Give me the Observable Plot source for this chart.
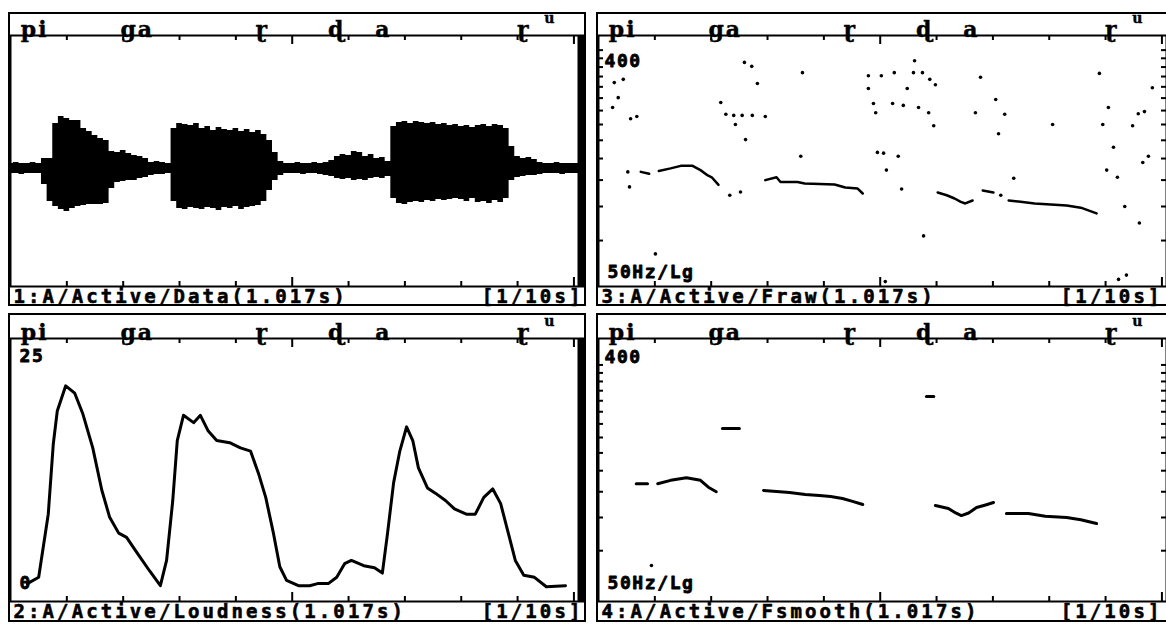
<!DOCTYPE html>
<html><head><meta charset="utf-8">
<script src="https://cdn.jsdelivr.net/npm/d3@7"></script>
<script src="https://cdn.jsdelivr.net/npm/@observablehq/plot@0.6"></script>
<style>
html,body{margin:0;padding:0;background:#fff;}
#root{position:relative;width:1166px;height:624px;overflow:hidden;background:#fff;}
.panel{position:absolute;}
.panel svg{display:block;overflow:visible;outline:2px solid #000;outline-offset:-2px;}
.panel svg g[font-family="DejaVu Sans Mono, monospace"] text{letter-spacing:3.1px;}
.panel svg g[font-family="DejaVu Sans Mono, sans-serif"] text{letter-spacing:1.6px;}
.panel svg g[font-family="DejaVu Serif, serif"] text{letter-spacing:2px;}
</style></head><body><div id="root"></div>
<script>
// ---------- data ----------
const duration = 1.017;
const timeTicks = [0.1,0.2,0.3,0.4,0.6,0.7,0.8,0.9];
const majorTicks = [0.5,1.0];
const hzTicks = [75,100,125,150,175,200,225,250,275,300,325,350,375];

const phoneLabels = ["pi","ga","ɽ","ɖ","a","ɽ"];
const phoneTimes  = [0.043,0.225,0.447,0.579,0.662,0.911];
const superLabels = ["u"];
const superTimes  = [0.958];

// waveform envelope, 10 ms frames
const waveT = [0.00,0.01,0.02,0.03,0.04,0.05,0.06,0.07,0.08,0.09,
 0.10,0.11,0.12,0.13,0.14,0.15,0.16,0.17,0.18,0.19,
 0.20,0.21,0.22,0.23,0.24,0.25,0.26,0.27,0.28,0.29,
 0.30,0.31,0.32,0.33,0.34,0.35,0.36,0.37,0.38,0.39,
 0.40,0.41,0.42,0.43,0.44,0.45,0.46,0.47,0.48,0.49,
 0.50,0.51,0.52,0.53,0.54,0.55,0.56,0.57,0.58,0.59,
 0.60,0.61,0.62,0.63,0.64,0.65,0.66,0.67,0.68,0.69,
 0.70,0.71,0.72,0.73,0.74,0.75,0.76,0.77,0.78,0.79,
 0.80,0.81,0.82,0.83,0.84,0.85,0.86,0.87,0.88,0.89,
 0.90,0.91,0.92,0.93,0.94,0.95,0.96,0.97,0.98,0.99,
 1.00,1.01];
const waveUpper = [0.05,0.06,0.05,0.05,0.06,0.05,0.10,0.10,0.45,0.52,
 0.50,0.48,0.48,0.40,0.37,0.33,0.30,0.28,0.17,0.16,
 0.18,0.15,0.13,0.12,0.10,0.06,0.07,0.06,0.05,0.40,
 0.45,0.44,0.43,0.45,0.40,0.42,0.38,0.41,0.39,0.38,
 0.40,0.37,0.39,0.36,0.38,0.34,0.28,0.16,0.07,0.05,
 0.05,0.06,0.05,0.05,0.06,0.05,0.06,0.08,0.12,0.14,
 0.13,0.17,0.16,0.12,0.14,0.10,0.11,0.07,0.42,0.46,
 0.47,0.45,0.47,0.46,0.45,0.46,0.44,0.45,0.43,0.44,
 0.42,0.43,0.41,0.43,0.44,0.42,0.44,0.43,0.40,0.22,
 0.12,0.10,0.11,0.09,0.06,0.05,0.05,0.06,0.05,0.05,
 0.05,0.05];
const waveLower = [-0.05,-0.05,-0.06,-0.05,-0.05,-0.05,-0.16,-0.33,-0.38,-0.41,
 -0.43,-0.40,-0.38,-0.37,-0.36,-0.36,-0.36,-0.35,-0.20,-0.14,
 -0.13,-0.12,-0.12,-0.10,-0.09,-0.07,-0.06,-0.06,-0.05,-0.33,
 -0.40,-0.41,-0.39,-0.40,-0.41,-0.39,-0.40,-0.42,-0.39,-0.40,
 -0.38,-0.41,-0.39,-0.38,-0.37,-0.33,-0.22,-0.12,-0.07,-0.05,
 -0.05,-0.05,-0.06,-0.05,-0.05,-0.06,-0.07,-0.08,-0.10,-0.11,
 -0.10,-0.12,-0.11,-0.12,-0.10,-0.09,-0.10,-0.08,-0.30,-0.35,
 -0.36,-0.34,-0.33,-0.34,-0.32,-0.33,-0.31,-0.32,-0.31,-0.30,
 -0.31,-0.33,-0.30,-0.34,-0.33,-0.35,-0.32,-0.34,-0.30,-0.12,
 -0.09,-0.08,-0.07,-0.07,-0.06,-0.05,-0.05,-0.05,-0.06,-0.05,
 -0.05,-0.05];

// loudness (0..25 scale)
const loudT = [0.030,0.050,0.067,0.076,0.083,0.098,0.114,0.128,0.146,0.162,0.176,0.192,0.206,0.225,0.247,0.266,
 0.277,0.288,0.296,0.307,0.325,0.337,0.351,0.366,0.389,0.408,0.426,0.440,0.453,0.467,0.478,0.490,
 0.511,0.531,0.545,0.564,0.579,0.593,0.605,0.627,0.646,0.660,
 0.669,0.680,0.691,0.703,0.714,0.724,0.740,0.754,0.772,0.788,0.809,0.825,0.840,0.856,0.870,0.884,0.896,0.911,0.930,0.951,0.985];
const loudV = [1.7,2.3,8.3,15.0,18.1,20.5,19.8,17.9,14.6,10.6,8.0,6.5,6.1,4.6,2.9,1.5,
 3.9,9.6,15.3,17.7,17.0,17.7,16.2,15.3,15.1,14.6,14.3,12.2,9.9,6.4,3.3,2.0,
 1.5,1.5,1.7,1.7,2.3,3.6,3.9,3.4,3.2,2.7,
 6.4,11.3,14.3,16.6,15.3,12.7,10.8,10.3,9.6,8.8,8.3,8.3,9.9,10.7,9.3,6.4,3.9,2.5,2.3,1.4,1.5];

// raw F0 (Hz): voiced contour pieces
const rawT   = [0.075,0.090, 0.107,0.128,0.146,0.167,0.181,0.194,0.201,0.213,
 0.296,0.316,0.323,0.353,0.366,0.419,0.438,0.460,0.469,
 0.602,0.618,0.632,0.643,0.651,0.664, 0.682,0.701,
 0.728,0.749,0.774,0.831,0.856,0.884];
const rawHz  = [134,132, 135,138,141,141,136,130,128,120,
 125,128,123,123,121.5,120.4,117.4,116.4,111.6,
 112.6,110,107,104,102.6,105.2, 114.5,112.6,
 105.2,104,102.6,100.8,99,94.3];
const rawSeg = [1,1, 2,2,2,2,2,2,2,2,
 3,3,3,3,3,3,3,3,3,
 4,4,4,4,4,4, 5,5,
 6,6,6,6,6,6];
// raw F0: isolated estimates
const strayT  = [0.028,0.044,0.035,0.025,0.057,0.068,0.259,0.272,0.282,0.362,0.217,0.226,0.240,0.255,0.273,0.296,0.243,0.261,0.359,
 0.479,0.502,0.525,0.559,0.575,0.561,0.588,0.598,0.548,0.479,0.488,0.492,0.522,0.541,0.568,0.586,0.595,0.495,0.506,0.532,0.511,0.538,
 0.678,0.705,0.669,0.721,0.710,0.737,0.806,0.889,0.905,0.895,0.914,0.902,0.921,0.934,0.960,0.948,0.958,0.969,0.966,0.976,0.983,
 0.577,0.101,0.509,0.923,0.937,0.052,0.055,0.233,0.252,0.714];
const strayHz = [285,293,251,231,210,214,338,327,283,310,241,218,216,216,216,214,200,176,153,
 302,302,310,310,310,343,293,280,271,271,239,221,239,235,231,221,198,158,157,153,136,116,
 298,247,221,218,185,127,200,308,231,200,165,136,128,100,87,198,219,223,145,153,273,
 78,67,53,54,56,134,118,110,113,110];

// smoothed F0 (Hz)
const smT   = [0.067,0.087, 0.105,0.128,0.156,0.181,0.195,0.209,
 0.293,0.339,0.367,0.392,0.412,0.433,0.451,0.469,
 0.598,0.621,0.634,0.644,0.657,0.671,0.687,0.701,
 0.724,0.763,0.793,0.831,0.856,0.884,
 0.220,0.250, 0.582,0.595];
const smHz  = [134,134, 134,138,141,138,130,125,
 126.4,124.2,122,121,120,117.9,115,111.9,
 111,108.1,104,101.7,104,109,111.5,113.9,
 103.5,103.5,101,100,98,94.9,
 216,216, 285,285];
const smSeg = [1,1, 2,2,2,2,2,2, 3,3,3,3,3,3,3,3, 4,4,4,4,4,4,4,4, 5,5,5,5,5,5, 6,6, 7,7];
const smStrayT = [0.094];
const smStrayHz = [66];

// ---------- layout ----------
const W = 578;
const colX = [8, 596];
const rowY = [12, 313];
const rowH = [294, 309];
const rowMT = [23, 25];
const rowMB = [20, 21];
const ML = 2, MR = 3;

const footFont = {fontFamily: "DejaVu Sans Mono, monospace", fontWeight: "bold", fontSize: 19, fill: "#000", stroke: "#000", strokeWidth: 0.6};
const cornerFont = {fontFamily: "DejaVu Sans Mono, sans-serif", fontWeight: "bold", fontSize: 18, fill: "#000", stroke: "#000", strokeWidth: 0.8};
const phoneFont = {fontFamily: "DejaVu Serif, serif", fontWeight: "bold", fill: "#000", stroke: "#000", strokeWidth: 0.4};

function frameMarks(ph, pw, footL, footRdx) {
  return [
    Plot.frame({stroke: "#000", strokeWidth: 2}),
    Plot.ruleX(timeTicks, {x: d => d, insetBottom: ph - 5, stroke: "#000", strokeWidth: 2}),
    Plot.ruleX(majorTicks, {x: d => d, insetBottom: ph - 9, stroke: "#000", strokeWidth: 2}),
    Plot.ruleX(timeTicks, {x: d => d, insetTop: ph - 5, stroke: "#000", strokeWidth: 2}),
    Plot.ruleX(majorTicks, {x: d => d, insetTop: ph - 9, stroke: "#000", strokeWidth: 2}),
    Plot.ruleX([duration], {x: d => d, dx: -3, stroke: "#000", strokeWidth: 6}),
    Plot.text(phoneLabels, {x: phoneTimes, text: phoneLabels, frameAnchor: "top", lineAnchor: "bottom", dy: 1, fontSize: 22, ...phoneFont}),
    Plot.text(superLabels, {x: superTimes, text: superLabels, frameAnchor: "top", lineAnchor: "bottom", dy: -13, fontSize: 14, ...phoneFont}),
    Plot.text([footL], {text: d => d, frameAnchor: "bottom-left", textAnchor: "start", lineAnchor: "middle", dx: 3, dy: 10, ...footFont}),
    Plot.text(["[1/10s]"], {text: d => d, frameAnchor: "bottom-right", textAnchor: "end", lineAnchor: "middle", dx: footRdx, dy: 10, ...footFont})
  ];
}

function hzMarks(pw, topDy, botDy) {
  return [
    Plot.ruleY(hzTicks, {y: d => d, insetRight: pw - 5, stroke: "#000", strokeWidth: 2}),
    Plot.ruleY(hzTicks, {y: d => d, insetLeft: pw - 10, stroke: "#000", strokeWidth: 2}),
    Plot.text(["400"], {text: d => d, frameAnchor: "top-left", textAnchor: "start", lineAnchor: "middle", dx: 6, dy: topDy, ...cornerFont}),
    Plot.text(["50Hz/Lg"], {text: d => d, frameAnchor: "bottom-left", textAnchor: "start", lineAnchor: "middle", dx: 9, dy: botDy, ...cornerFont})
  ];
}

function makePanel(col, row, yScale, marks, footL) {
  const height = rowH[row], mt = rowMT[row], mb = rowMB[row];
  const ph = height - mt - mb, pw = W - ML - MR;
  const svg = Plot.plot({
    width: W, height,
    marginTop: mt, marginBottom: mb, marginLeft: ML, marginRight: MR,
    style: "overflow:visible;max-width:none;background:#fff;",
    x: {domain: [0, duration], axis: null},
    y: {...yScale, axis: null},
    marks: [...marks(ph, pw), ...frameMarks(ph, pw, footL, col === 0 ? 0 : -9)]
  });
  const div = document.createElement("div");
  div.className = "panel";
  div.style.left = colX[col] + "px";
  div.style.top = rowY[row] + "px";
  div.appendChild(svg);
  document.getElementById("root").appendChild(div);
}

// 1: waveform
const waveRows = waveT.map((t, i) => ({t, up: waveUpper[i], lo: waveLower[i]}));
makePanel(0, 0, {domain: [-1.18, 1.33]}, () => [
  Plot.areaY(waveRows, {x: "t", y1: "lo", y2: "up", curve: "step", fill: "#000"})
], "1:A/Active/Data(1.017s)");

// 2: loudness
const loudRows = loudT.map((t, i) => ({t, v: loudV[i]}));
makePanel(0, 1, {domain: [0, 25]}, () => [
  Plot.line(loudRows, {x: "t", y: "v", stroke: "#000", strokeWidth: 3, strokeLinejoin: "round"}),
  Plot.text(["25"], {text: d => d, frameAnchor: "top-left", textAnchor: "start", lineAnchor: "middle", dx: 9, dy: 18, ...cornerFont}),
  Plot.text(["0"], {text: d => d, frameAnchor: "bottom-left", textAnchor: "start", lineAnchor: "middle", dx: 9, dy: -18, ...cornerFont})
], "2:A/Active/Loudness(1.017s)");

// 3: raw F0
const rawRows = rawT.map((t, i) => ({t, hz: rawHz[i], seg: rawSeg[i]}));
const strayRows = strayT.map((t, i) => ({t, hz: strayHz[i]}));
makePanel(1, 0, {type: "log", domain: [50, 400], insetTop: 7, insetBottom: -2}, (ph, pw) => [
  ...hzMarks(pw, 26, -14),
  Plot.line(rawRows, {x: "t", y: "hz", z: "seg", stroke: "#000", strokeWidth: 2.5}),
  Plot.dot(strayRows, {x: "t", y: "hz", r: 1.8, fill: "#000", stroke: "none"})
], "3:A/Active/Fraw(1.017s)");

// 4: smoothed F0
const smRows = smT.map((t, i) => ({t, hz: smHz[i], seg: smSeg[i]}));
const smStrayRows = smStrayT.map((t, i) => ({t, hz: smStrayHz[i]}));
makePanel(1, 1, {type: "log", domain: [50, 400], insetTop: 19, insetBottom: 4}, (ph, pw) => [
  ...hzMarks(pw, 19, -18),
  Plot.line(smRows, {x: "t", y: "hz", z: "seg", stroke: "#000", strokeWidth: 3}),
  Plot.dot(smStrayRows, {x: "t", y: "hz", r: 1.8, fill: "#000", stroke: "none"})
], "4:A/Active/Fsmooth(1.017s)");
</script></body></html>
